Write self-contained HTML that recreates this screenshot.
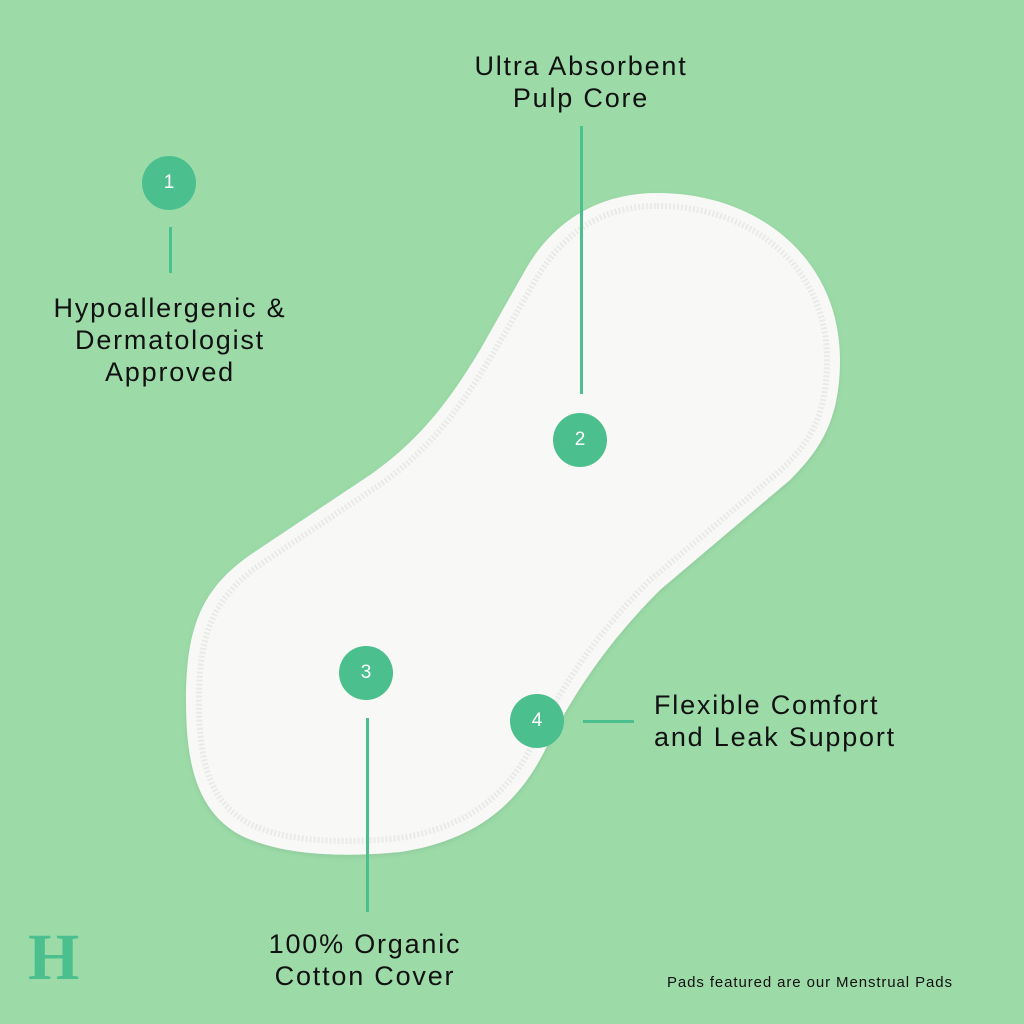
<!DOCTYPE html>
<html><head><meta charset="utf-8"><style>
html,body{margin:0;padding:0}
body{width:1024px;height:1024px;background:#9cdba8;position:relative;overflow:hidden;font-family:"Liberation Sans",sans-serif;color:#111}
.c{position:absolute;width:54px;height:54px;border-radius:50%;background:#4bbf8e;color:#fff;font-size:19px;text-align:center;line-height:54px}
.l{position:absolute;background:#4bbf8e}
.t{position:absolute;font-size:27px;line-height:32px;text-align:center;letter-spacing:1.8px}
</style></head><body>
<svg width="1024" height="1024" style="position:absolute;left:0;top:0">
<defs><filter id="s" x="-10%" y="-10%" width="120%" height="120%"><feDropShadow dx="0" dy="2" stdDeviation="3" flood-opacity="0.08"/></filter></defs>
<path filter="url(#s)" fill="#f8f8f7" d="M657,193 C760,193 840,260 840,360 C840,420 820,450 790,480 L660,590 C610,640 575,690 545,750 C520,800 480,840 400,852 C340,858 280,855 240,835 C195,810 186,760 186,700 C186,630 200,590 250,555 L370,475 C420,440 450,400 480,350 L527,267 C555,220 600,193 657,193 Z"/>
<path fill="none" stroke="#e9ebe8" stroke-width="6" stroke-dasharray="2 2" d="M657,206 C750,206 827,265 827,360 C827,415 810,442 781,470 L650,580 C600,630 565,680 534,742 C510,790 474,826 400,838 C342,844 285,842 248,823 C207,800 199,756 199,700 C199,636 212,600 258,566 L378,486 C430,450 460,408 491,357 L538,276 C566,230 605,206 657,206 Z"/>
</svg>
<div class="c" style="left:142px;top:156px">1</div>
<div class="l" style="left:169px;top:227px;width:3px;height:46px"></div>
<div class="t" style="left:20px;top:292px;width:300px">Hypoallergenic &amp;<br>Dermatologist<br>Approved</div>
<div class="t" style="left:431px;top:50px;width:300px">Ultra Absorbent<br>Pulp Core</div>
<div class="l" style="left:580px;top:126px;width:3px;height:268px"></div>
<div class="c" style="left:553px;top:413px">2</div>
<div class="c" style="left:339px;top:646px">3</div>
<div class="l" style="left:366px;top:718px;width:3px;height:194px"></div>
<div class="t" style="left:215px;top:928px;width:300px">100% Organic<br>Cotton Cover</div>
<div class="c" style="left:510px;top:694px">4</div>
<div class="l" style="left:583px;top:720px;width:51px;height:3px"></div>
<div class="t" style="left:654px;top:689px;text-align:left">Flexible Comfort<br>and Leak Support</div>
<div style="position:absolute;left:28px;top:925px;font-family:'Liberation Serif',serif;font-weight:bold;font-size:66px;line-height:66px;color:#4bbf8e">H</div>
<div style="position:absolute;left:667px;top:974px;font-size:15px;letter-spacing:0.9px">Pads featured are our Menstrual Pads</div>
</body></html>
